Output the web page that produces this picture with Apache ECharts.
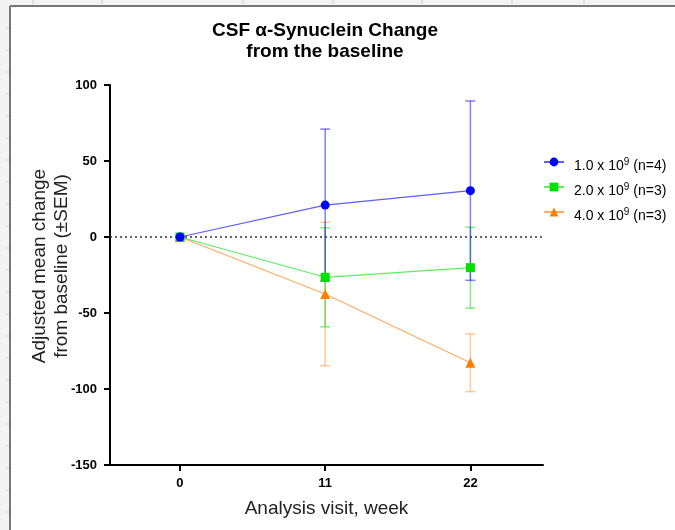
<!DOCTYPE html>
<html>
<head>
<meta charset="utf-8">
<script src="https://cdn.jsdelivr.net/npm/echarts@6/dist/echarts.min.js"></script>
<style>html,body{margin:0;padding:0;background:#f3f3f3;}#c{width:675px;height:530px;}</style>
</head>
<body>
<div id="c"></div>
<script>
const weeks = [0, 11, 22];
const xTicks = [0, 11, 22];
const yTicks = [-150, -100, -50, 0, 50, 100];
const seriesNames = ['1.0 x 10^9 (n=4)', '2.0 x 10^9 (n=3)', '4.0 x 10^9 (n=3)'];
const blueMean = [0, 21, 30.5];
const blueSem = [0, 50, 59];
const greenMean = [0, -26.5, -20.2];
const greenSem = [0, 32.6, 26.6];
const orangeMean = [0, -37.5, -82.7];
const orangeSem = [0, 47.2, 19];

const font = 'Arial, "Liberation Sans", sans-serif';
const chart = echarts.init(document.getElementById('c'));

function pts(mean) { return weeks.map((w, i) => [w, mean[i]]); }
function errData(mean, sem) { return weeks.map((w, i) => [w, mean[i] - sem[i], mean[i] + sem[i]]); }
function errSeries(mean, sem, color, z) {
  return {
    type: 'custom', z: z, silent: true,
    data: errData(mean, sem),
    renderItem: function (params, api) {
      const lo = api.coord([api.value(0), api.value(1)]);
      const hi = api.coord([api.value(0), api.value(2)]);
      if (Math.abs(hi[1] - lo[1]) < 1) return null;
      const w = 5;
      const st = { stroke: color, lineWidth: 1.5 };
      return { type: 'group', children: [
        { type: 'line', shape: { x1: lo[0], y1: lo[1], x2: hi[0], y2: hi[1] }, style: st },
        { type: 'line', shape: { x1: lo[0] - w, y1: lo[1], x2: lo[0] + w, y2: lo[1] }, style: st },
        { type: 'line', shape: { x1: hi[0] - w, y1: hi[1], x2: hi[0] + w, y2: hi[1] }, style: st }
      ]};
    }
  };
}

const rulerTop = [33, 102, 243, 333, 422, 512, 584];
const rulerLeft = [];
for (let y = 28; y < 530; y += 22) rulerLeft.push(y);
const graphics = [
  { type: 'rect', z: -10, shape: { x: 10, y: 6, width: 670, height: 530 }, style: { fill: '#ffffff' } },
  { type: 'line', z: -9, shape: { x1: 10, y1: 6, x2: 675, y2: 6 }, style: { stroke: '#777', lineWidth: 2 } },
  { type: 'line', z: -9, shape: { x1: 10, y1: 6, x2: 10, y2: 530 }, style: { stroke: '#777', lineWidth: 2 } }
];
rulerTop.forEach(x => graphics.push({ type: 'line', z: -9, shape: { x1: x, y1: 0, x2: x, y2: 4 }, style: { stroke: '#cfcfcf', lineWidth: 1 } }));
rulerLeft.forEach(y => graphics.push({ type: 'line', z: -9, shape: { x1: 6, y1: y, x2: 9, y2: y }, style: { stroke: '#cfcfcf', lineWidth: 1 } }));

chart.setOption({
  backgroundColor: '#f3f3f3',
  animation: false,
  graphic: graphics,
  title: {
    text: 'CSF α-Synuclein Change\nfrom the baseline',
    left: 320, top: 15, textAlign: 'center',
    textStyle: { fontFamily: font, fontSize: 19, fontWeight: 'bold', color: '#000', lineHeight: 21 }
  },
  legend: {
    orient: 'vertical', left: 538, top: 152, itemGap: 9, itemWidth: 20, itemHeight: 11,
    data: seriesNames,
    formatter: function (name) {
      const parts = name.split('^9');
      return parts[0] + '{sup|9}' + parts[1];
    },
    textStyle: { fontFamily: font, fontSize: 14, color: '#000', padding: [8, 0, 0, 5],
      rich: { sup: { fontFamily: font, fontSize: 10, verticalAlign: 'top', padding: [0, 0, 8, 0], color: '#000' } } }
  },
  grid: { left: 110, right: 132, top: 85, bottom: 65 },
  xAxis: {
    type: 'value', min: -5.3, max: 27.5,
    name: 'Analysis visit, week', nameLocation: 'middle', nameGap: 34,
    nameTextStyle: { fontFamily: font, fontSize: 19, color: '#222' },
    axisLine: { onZero: false, lineStyle: { color: '#000', width: 2 } },
    axisTick: { show: true, length: 6, lineStyle: { color: '#000', width: 2 }, customValues: xTicks },
    axisLabel: { customValues: xTicks, fontFamily: font, fontSize: 13, fontWeight: 'bold', color: '#000', margin: 12 },
    splitLine: { show: false }
  },
  yAxis: {
    type: 'value', min: -150, max: 100, interval: 50,
    name: 'Adjusted mean change\nfrom baseline (±SEM)', nameLocation: 'middle', nameGap: 37,
    nameMoveOverlap: false,
    nameTextStyle: { fontFamily: font, fontSize: 19, color: '#222', lineHeight: 22, padding: [0, 0, 0, 18] },
    axisLine: { show: true, onZero: false, lineStyle: { color: '#000', width: 2 } },
    axisTick: { show: true, length: 6, lineStyle: { color: '#000', width: 2 } },
    axisLabel: { fontFamily: font, fontSize: 13, fontWeight: 'bold', color: '#000', margin: 13 },
    splitLine: { show: false }
  },
  series: [
    {
      name: seriesNames[0], type: 'line', z: 12, data: pts(blueMean),
      symbol: 'circle', symbolSize: 9,
      itemStyle: { color: '#0000ff' },
      lineStyle: { color: 'rgba(40,40,255,0.75)', width: 1.2 },
      markLine: {
        silent: true, symbol: 'none', label: { show: false },
        lineStyle: { color: '#333', type: [2, 3], width: 1.5 },
        data: [{ yAxis: 0 }]
      }
    },
    {
      name: seriesNames[1], type: 'line', z: 11, data: pts(greenMean),
      symbol: 'rect', symbolSize: 9,
      itemStyle: { color: '#00e000' },
      lineStyle: { color: 'rgba(40,230,40,0.75)', width: 1.2 }
    },
    {
      name: seriesNames[2], type: 'line', z: 10, data: pts(orangeMean),
      symbol: 'triangle', symbolSize: 10,
      itemStyle: { color: '#ff8000' },
      lineStyle: { color: 'rgba(255,150,60,0.8)', width: 1.2 }
    },
    errSeries(orangeMean, orangeSem, 'rgba(255,150,50,0.5)', 3),
    errSeries(greenMean, greenSem, 'rgba(0,220,0,0.5)', 4),
    errSeries(blueMean, blueSem, 'rgba(0,0,255,0.5)', 5)
  ]
});
</script>
</body>
</html>
